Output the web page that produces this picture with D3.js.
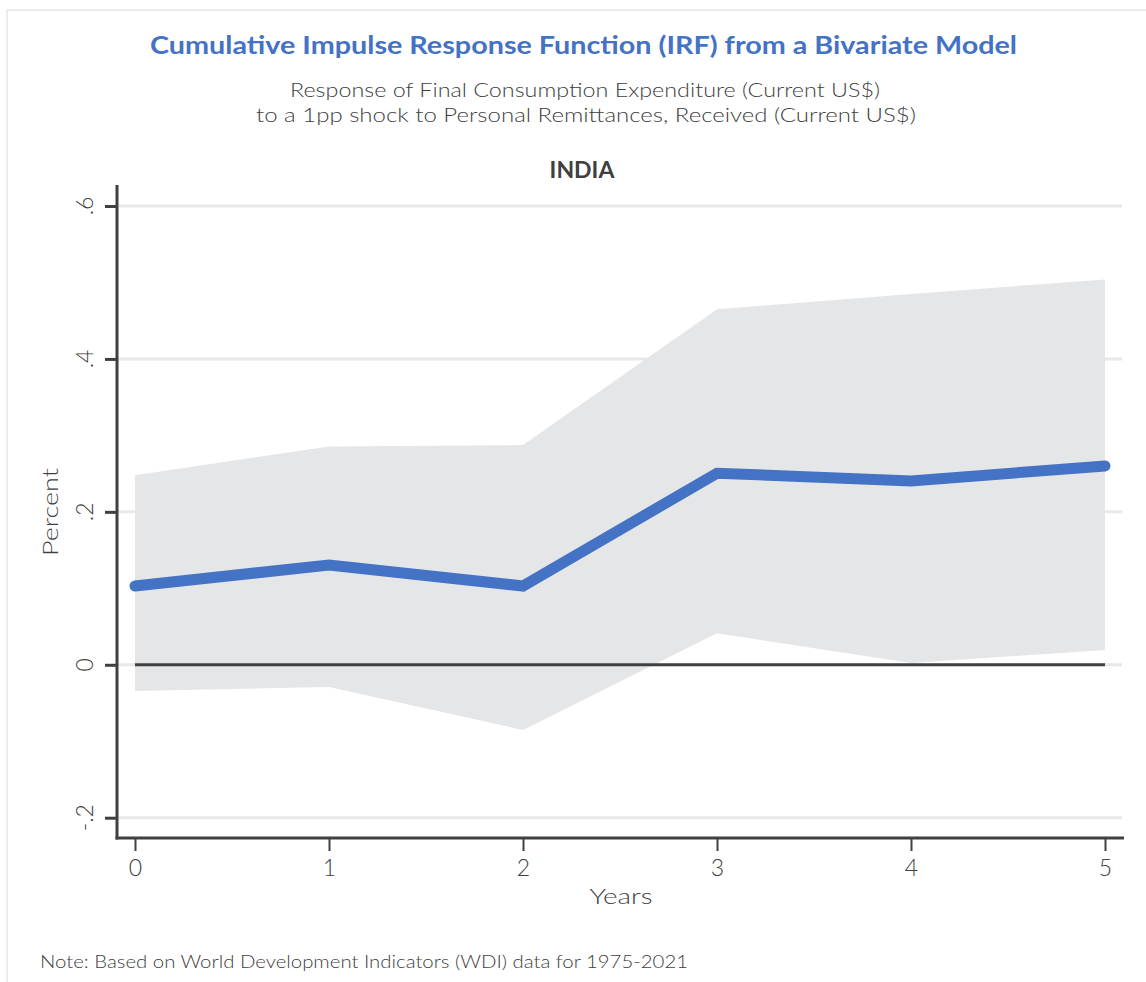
<!DOCTYPE html>
<html>
<head>
<meta charset="utf-8">
<script src="https://cdn.jsdelivr.net/npm/d3@7"></script>
<style>
  html, body { margin: 0; padding: 0; background: #ffffff; }
  svg { display: block; }
  text { font-family: "Lato", "Noto Sans", sans-serif; }
</style>
</head>
<body>
<svg id="chart" width="1146" height="982"></svg>
<script>
// Horizon (years after the shock)
const years = [0, 1, 2, 3, 4, 5];
// Cumulative IRF point estimate
const irf = [0.103, 0.1305, 0.103, 0.2505, 0.2404, 0.260];
// Confidence band
const upper = [0.248, 0.2856, 0.2873, 0.465, 0.485, 0.504];
const lower = [-0.0343, -0.029, -0.0853, 0.0412, 0.0024, 0.0194];
// Axis ticks
const yTicks = [-0.2, 0, 0.2, 0.4, 0.6];
const yTickLabels = ["-.2", "0", ".2", ".4", ".6"];
const xTicks = [0, 1, 2, 3, 4, 5];

const svg = d3.select("#chart");
const ink = "#404040";

// Stretch a text run to a set width (the original face is a wide geometric sans)
function fit(sel, w) {
  return sel.attr("textLength", w).attr("lengthAdjust", "spacingAndGlyphs");
}

// Figure frame
svg.append("rect")
  .attr("x", 7).attr("y", 10).attr("width", 1160).attr("height", 1000)
  .attr("fill", "none").attr("stroke", "#ebebeb").attr("stroke-width", 2);

const x = d3.scaleLinear().domain([0, 5]).range([135, 1105]);
const y = d3.scaleLinear().domain([-0.2, 0.6]).range([817.7, 206]);

const plotLeft = 117, plotRight = 1122, plotTop = 185, plotBottom = 838;

// Gridlines
svg.append("g").selectAll("line").data(yTicks).join("line")
  .attr("x1", plotLeft).attr("x2", plotRight)
  .attr("y1", d => y(d)).attr("y2", d => y(d))
  .attr("stroke", "#e8e8e8").attr("stroke-width", 3);

// Confidence band
const rows = years.map((t, i) => ({ t, lo: lower[i], hi: upper[i], v: irf[i] }));
svg.append("path").datum(rows)
  .attr("fill", "#e5e6e8")
  .attr("d", d3.area().x(d => x(d.t)).y0(d => y(d.lo)).y1(d => y(d.hi)));

// Zero reference line across the horizon
svg.append("line")
  .attr("x1", x(years[0])).attr("x2", x(years[years.length - 1]))
  .attr("y1", y(0)).attr("y2", y(0))
  .attr("stroke", ink).attr("stroke-width", 3);

// IRF line
svg.append("path").datum(rows)
  .attr("fill", "none").attr("stroke", "#4472c4")
  .attr("stroke-width", 11).attr("stroke-linecap", "round").attr("stroke-linejoin", "miter")
  .attr("d", d3.line().x(d => x(d.t)).y(d => y(d.v)));

// Y axis
const yAxis = svg.append("g").attr("transform", `translate(${plotLeft},0)`)
  .call(d3.axisLeft(y).tickValues(yTicks).tickSize(12).tickPadding(0).tickFormat(() => ""));
yAxis.select(".domain").remove();
yAxis.selectAll(".tick line").attr("stroke", ink).attr("stroke-width", 3);
svg.append("line").attr("x1", plotLeft).attr("x2", plotLeft)
  .attr("y1", plotTop).attr("y2", plotBottom + 1.5)
  .attr("stroke", ink).attr("stroke-width", 3);
svg.append("g").selectAll("text").data(yTicks).join("text")
  .attr("transform", d => `translate(93,${y(d)}) rotate(-90)`)
  .attr("text-anchor", "middle")
  .attr("font-size", 23).attr("font-weight", 300).attr("fill", ink)
  .text((d, i) => yTickLabels[i]);

// X axis
const xAxis = svg.append("g").attr("transform", `translate(0,${plotBottom})`)
  .call(d3.axisBottom(x).tickValues(xTicks).tickSize(13).tickPadding(9).tickFormat(d3.format("d")));
xAxis.select(".domain").remove();
xAxis.selectAll(".tick line").attr("stroke", ink).attr("stroke-width", 2);
xAxis.selectAll(".tick text").attr("font-size", 23).attr("font-weight", 300).attr("fill", ink)
  .attr("font-family", "Lato, 'Noto Sans', sans-serif");
svg.append("line").attr("x1", plotLeft - 1.5).attr("x2", 1124)
  .attr("y1", plotBottom).attr("y2", plotBottom)
  .attr("stroke", ink).attr("stroke-width", 3);

// Axis titles
fit(svg.append("text").attr("transform", "translate(58,512) rotate(-90)")
  .attr("text-anchor", "middle").attr("font-size", 22).attr("font-weight", 300)
  .attr("fill", ink).text("Percent"), 88);
fit(svg.append("text").attr("x", 621).attr("y", 904)
  .attr("text-anchor", "middle").attr("font-size", 22).attr("font-weight", 300)
  .attr("fill", ink).text("Years"), 63);

// Titles
fit(svg.append("text").attr("x", 583.5).attr("y", 54)
  .attr("text-anchor", "middle").attr("font-size", 25).attr("font-weight", "bold")
  .attr("fill", "#4472c4").text("Cumulative Impulse Response Function (IRF) from a Bivariate Model"), 867);
fit(svg.append("text").attr("x", 585).attr("y", 97)
  .attr("text-anchor", "middle").attr("font-size", 20).attr("font-weight", 300).attr("fill", ink)
  .text("Response of Final Consumption Expenditure (Current US$)"), 590);
fit(svg.append("text").attr("x", 586).attr("y", 122)
  .attr("text-anchor", "middle").attr("font-size", 20).attr("font-weight", 300).attr("fill", ink)
  .text("to a 1pp shock to Personal Remittances, Received (Current US$)"), 660);
svg.append("text").attr("x", 582).attr("y", 178)
  .attr("text-anchor", "middle").attr("font-size", 23).attr("font-weight", "bold")
  .attr("font-family", "'Liberation Sans', Arial, sans-serif")
  .attr("fill", ink).text("INDIA");

// Note
fit(svg.append("text").attr("x", 40).attr("y", 968)
  .attr("font-size", 17).attr("font-weight", 300).attr("fill", ink)
  .text("Note: Based on World Development Indicators (WDI) data for 1975-2021"), 648);
</script>
</body>
</html>
